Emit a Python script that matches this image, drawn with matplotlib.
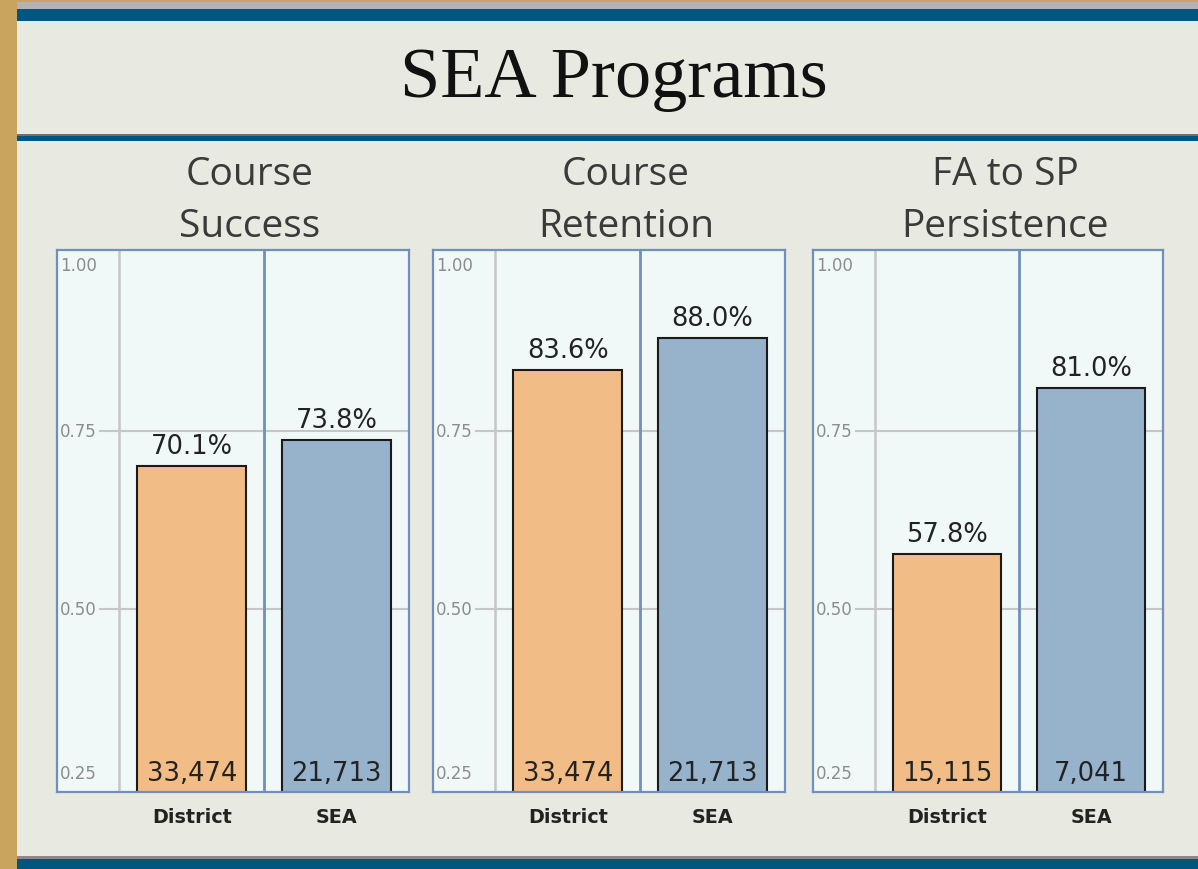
import matplotlib
matplotlib.use("Agg")
import matplotlib.pyplot as plt
import matplotlib.patches as patches

# --- data ---
metrics = ["Course\nSuccess", "Course\nRetention", "FA to SP\nPersistence"]
groups = ["District", "SEA"]
district_rate = [0.701, 0.836, 0.578]
sea_rate = [0.738, 0.880, 0.810]
district_n = [33474, 33474, 15115]
sea_n = [21713, 21713, 7041]
y_ticks = [0.25, 0.50, 0.75, 1.00]

# --- styles ---
W, H = 1198, 870
BG = "#e8e9e1"
PANEL_BG = "#f1f8f8"
FRAME = "#6f8fbf"
ORANGE = "#f2bc86"
BLUE = "#97b2cb"
NAVY = "#00567f"
GOLD = "#c9a45f"
YLO, YHI = 0.244, 1.004

fig = plt.figure(figsize=(W / 100, H / 100), dpi=100)
fig.patch.set_facecolor(BG)

# background decoration in pixel coordinates
bg = fig.add_axes([0, 0, 1, 1], zorder=-1)
bg.set_xlim(0, W); bg.set_ylim(H, 0); bg.axis('off')
bg.add_patch(patches.Rectangle((0, 0), W, 3, facecolor=GOLD, edgecolor='none'))
bg.add_patch(patches.Rectangle((17, 3), W, 7, facecolor="#b3b3b3", edgecolor='none'))
bg.add_patch(patches.Rectangle((17, 10), W, 12, facecolor=NAVY, edgecolor='none'))
bg.add_patch(patches.Rectangle((17, 135), W, 2, facecolor="#707070", edgecolor='none'))
bg.add_patch(patches.Rectangle((17, 137), W, 5, facecolor=NAVY, edgecolor='none'))
bg.add_patch(patches.Rectangle((17, 857), W, 3, facecolor="#8a8a8a", edgecolor='none'))
bg.add_patch(patches.Rectangle((17, 860), W, 10, facecolor=NAVY, edgecolor='none'))
bg.add_patch(patches.Rectangle((0, 0), 17, H, facecolor=GOLD, edgecolor='none'))
bg.text(614, 79, "SEA Programs", fontsize=52, family="Liberation Serif",
        color="#111111", ha='center', va='center')

# panel frames (left, right) in pixels
panel_px = [(57, 409), (433, 785), (813, 1163)]
top_px, bottom_px = 251, 793

for i, (l, r) in enumerate(panel_px):
    ax = fig.add_axes([l / W, 1 - bottom_px / H, (r - l) / W, (bottom_px - top_px) / H])
    ax.set_facecolor(PANEL_BG)
    ax.set_xlim(-0.93, 1.5)
    ax.set_ylim(YLO, YHI)

    vals = [district_rate[i], sea_rate[i]]
    counts = [district_n[i], sea_n[i]]

    for t in [0.50, 0.75]:
        ax.plot([-0.63, 1.5], [t, t], color="#c6c6c6", lw=1.5, zorder=1)
    ax.axvline(-0.5, color="#c6c6c6", lw=1.8, zorder=1)
    ax.axvline(0.5, color=FRAME, lw=2, zorder=1)

    ax.bar([0, 1], vals, width=0.75, color=[ORANGE, BLUE],
           edgecolor="#1a1a1a", linewidth=1.5, zorder=2)

    for x, v, n in zip([0, 1], vals, counts):
        ax.annotate(f"{v * 100:.1f}%", (x, v), xytext=(0, 5), textcoords='offset points',
                    ha='center', va='bottom', fontsize=18.5, color="#222222")
        ax.annotate(f"{n:,}", (x, YLO), xytext=(0, 4.5), textcoords='offset points',
                    ha='center', va='bottom', fontsize=18.5, color="#222222", zorder=3)

    # tick labels drawn inside the plot area, clipped to the frame
    for t in y_ticks:
        ty = min(max(t, YLO + 0.027), YHI - 0.021)
        ax.text(-0.91, ty, f"{t:.2f}", fontsize=12, color="#8c8c8c",
                ha='left', va='center')

    ax.set_yticks([])
    ax.set_xticks([0, 1])
    ax.set_xticklabels(groups, fontsize=13.8, fontweight='bold', color="#222222")
    ax.tick_params(axis='x', length=0, pad=11)
    for s in ax.spines.values():
        s.set_color(FRAME)
        s.set_linewidth(1.6)

    # panel title
    cx = (l + r) / 2 + 17
    bg.text(cx, 201, metrics[i], fontsize=28, family="Open Sans", color="#3a3a3a",
            ha='center', va='center', linespacing=1.5)

fig.savefig("out.png", dpi=100, facecolor=fig.get_facecolor())
